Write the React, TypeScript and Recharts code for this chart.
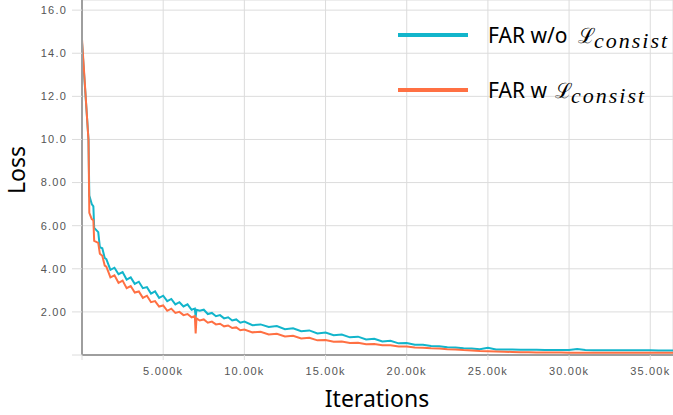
import { LineChart, Line, XAxis, YAxis, CartesianGrid } from 'recharts';

const iterations = [
  0, 150, 400, 450, 600, 700, 750, 1000, 1100, 1250, 1400, 1500, 1750, 2000, 2250, 2500, 2750, 3000,
  3250, 3500, 3750, 4000, 4250, 4500, 4750, 5000, 5250, 5500, 5750, 6000, 6250, 6500, 6750, 6950,
  7000, 7050, 7250, 7500, 7750, 8000, 8250, 8500, 8750, 9000, 9250, 9500, 9750, 10000, 10500, 11000,
  11500, 12000, 12500, 13000, 13500, 14000, 14500, 15000, 15500, 16000, 16500, 17000, 17500, 18000,
  18500, 19000, 19500, 20000, 20500, 21000, 21500, 22000, 22500, 23000, 23500, 24000, 24500, 25000,
  25500, 26000, 26500, 27000, 27500, 28000, 28500, 29000, 29500, 30000, 30500, 31000, 31500, 32000,
  32500, 33000, 33500, 34000, 34500, 35000, 35500, 36000, 36500,
];

// FAR w/o L_consist
const lossWithout = [
  14.5, 12.8, 10.0, 7.4, 7.0, 6.9, 5.9, 5.7, 5.0, 4.95, 4.5, 4.45, 3.95, 4.05, 3.75, 3.85, 3.5, 3.6,
  3.3, 3.4, 3.1, 3.15, 2.85, 2.95, 2.65, 2.75, 2.5, 2.6, 2.35, 2.45, 2.25, 2.35, 2.1, 2.15,
  1.75, 2.1, 2.05, 2.1, 1.9, 1.95, 1.8, 1.85, 1.7, 1.75, 1.6, 1.65, 1.5, 1.55, 1.38, 1.42,
  1.3, 1.34, 1.2, 1.24, 1.1, 1.14, 1.0, 1.04, 0.92, 0.95, 0.82, 0.85, 0.72, 0.75,
  0.63, 0.66, 0.54, 0.56, 0.48, 0.48, 0.42, 0.41, 0.36, 0.35, 0.31, 0.3, 0.27, 0.33,
  0.26, 0.25, 0.25, 0.24, 0.24, 0.24, 0.23, 0.23, 0.23, 0.23, 0.28, 0.23, 0.22, 0.22,
  0.22, 0.22, 0.22, 0.22, 0.22, 0.22, 0.21, 0.21, 0.21,
];

// FAR w L_consist
const lossWith = [
  14.65, 12.9, 9.95, 6.6, 6.3, 6.25, 5.3, 5.2, 4.7, 4.6, 4.15, 4.1, 3.6, 3.7, 3.35, 3.45, 3.1, 3.2,
  2.9, 2.95, 2.65, 2.75, 2.45, 2.5, 2.25, 2.3, 2.05, 2.15, 1.95, 2.0, 1.85, 1.9, 1.75, 1.8,
  1.0, 1.7, 1.6, 1.65, 1.5, 1.55, 1.42, 1.45, 1.33, 1.37, 1.25, 1.28, 1.15, 1.18, 1.05, 1.08,
  0.95, 0.98, 0.86, 0.89, 0.77, 0.8, 0.68, 0.7, 0.62, 0.63, 0.56, 0.57, 0.5, 0.51,
  0.45, 0.45, 0.4, 0.39, 0.35, 0.34, 0.31, 0.3, 0.27, 0.26, 0.23, 0.21, 0.18, 0.17,
  0.16, 0.15, 0.14, 0.13, 0.13, 0.12, 0.12, 0.12, 0.12, 0.11, 0.11, 0.11, 0.1, 0.1,
  0.1, 0.1, 0.1, 0.1, 0.1, 0.1, 0.1, 0.1, 0.1,
];

const xTicks = [0, 5000, 10000, 15000, 20000, 25000, 30000, 35000];
const xTickLabels = ['', '5.000k', '10.00k', '15.00k', '20.00k', '25.00k', '30.00k', '35.00k'];
const yTicks = [0, 2, 4, 6, 8, 10, 12, 14, 16];
const yTickLabels = ['', '2.00', '4.00', '6.00', '8.00', '10.0', '12.0', '14.0', '16.0'];

const TEAL = '#12b5cb';
const ORANGE = '#ff7043';

const data = iterations.map((it, i) => ({
  iter: it,
  without: lossWithout[i],
  with: lossWith[i],
}));

const tickStyle = { fontFamily: '"Liberation Sans", Arial, sans-serif', fontSize: 11, fill: '#555', letterSpacing: 1.2 };
const bigFont = '"Noto Sans", "Open Sans", sans-serif';

function Overlay() {
  return (
    <svg width={673} height={415} style={{ position: 'absolute', left: 0, top: 0, pointerEvents: 'none' }}>
      <text x={25} y={170} transform="rotate(-90 25 170)" textAnchor="middle" fontFamily={bigFont} fontSize={23} fill="#000">
        Loss
      </text>
      <text x={377} y={407} textAnchor="middle" fontFamily={bigFont} fontSize={23} fill="#000">
        Iterations
      </text>

      <line x1={398} x2={468} y1={35} y2={35} stroke={TEAL} strokeWidth={4} />
      <text y={43} fontFamily={bigFont} fontSize={21} fill="#000">
        <tspan x={488}>FAR w/o</tspan>
        <tspan x={578} fontFamily='"DejaVu Serif", serif' fontSize={21}>ℒ</tspan>
        <tspan x={594} dy={5} fontFamily='"Liberation Serif", serif' fontStyle="italic" fontSize={22} letterSpacing={2}>consist</tspan>
      </text>

      <line x1={398} x2={468} y1={90} y2={90} stroke={ORANGE} strokeWidth={4} />
      <text y={98} fontFamily={bigFont} fontSize={21} fill="#000">
        <tspan x={488}>FAR w</tspan>
        <tspan x={555} fontFamily='"DejaVu Serif", serif' fontSize={21}>ℒ</tspan>
        <tspan x={571} dy={5} fontFamily='"Liberation Serif", serif' fontStyle="italic" fontSize={22} letterSpacing={2}>consist</tspan>
      </text>
    </svg>
  );
}

export default function App() {
  return (
    <div style={{ position: 'absolute', left: 0, top: 0, width: 673, height: 415, background: '#fff' }}>
      <LineChart width={673} height={415} data={data} margin={{ top: 0, right: 0, left: 0, bottom: 0 }}>
        <CartesianGrid stroke="#dcdcdc" strokeWidth={1} />
        <XAxis
          dataKey="iter"
          type="number"
          domain={[0, 36400]}
          ticks={xTicks}
          tickFormatter={(_v, i) => xTickLabels[i]}
          height={60}
          tickSize={5}
          tickMargin={7}
          tick={tickStyle}
          axisLine={{ stroke: '#9e9e9e', strokeWidth: 2 }}
          tickLine={{ stroke: '#dcdcdc' }}
          allowDataOverflow
        />
        <YAxis
          type="number"
          domain={[0, 16.47]}
          ticks={yTicks}
          tickFormatter={(_v, i) => yTickLabels[i]}
          width={82}
          tickSize={10}
          tickMargin={5}
          tick={tickStyle}
          axisLine={{ stroke: '#9e9e9e', strokeWidth: 2 }}
          tickLine={{ stroke: '#dcdcdc' }}
          allowDataOverflow
        />
        <Line type="linear" dataKey="without" stroke={TEAL} strokeWidth={2} dot={false} isAnimationActive={false} />
        <Line type="linear" dataKey="with" stroke={ORANGE} strokeWidth={2} dot={false} isAnimationActive={false} />
      </LineChart>
      <Overlay />
    </div>
  );
}
